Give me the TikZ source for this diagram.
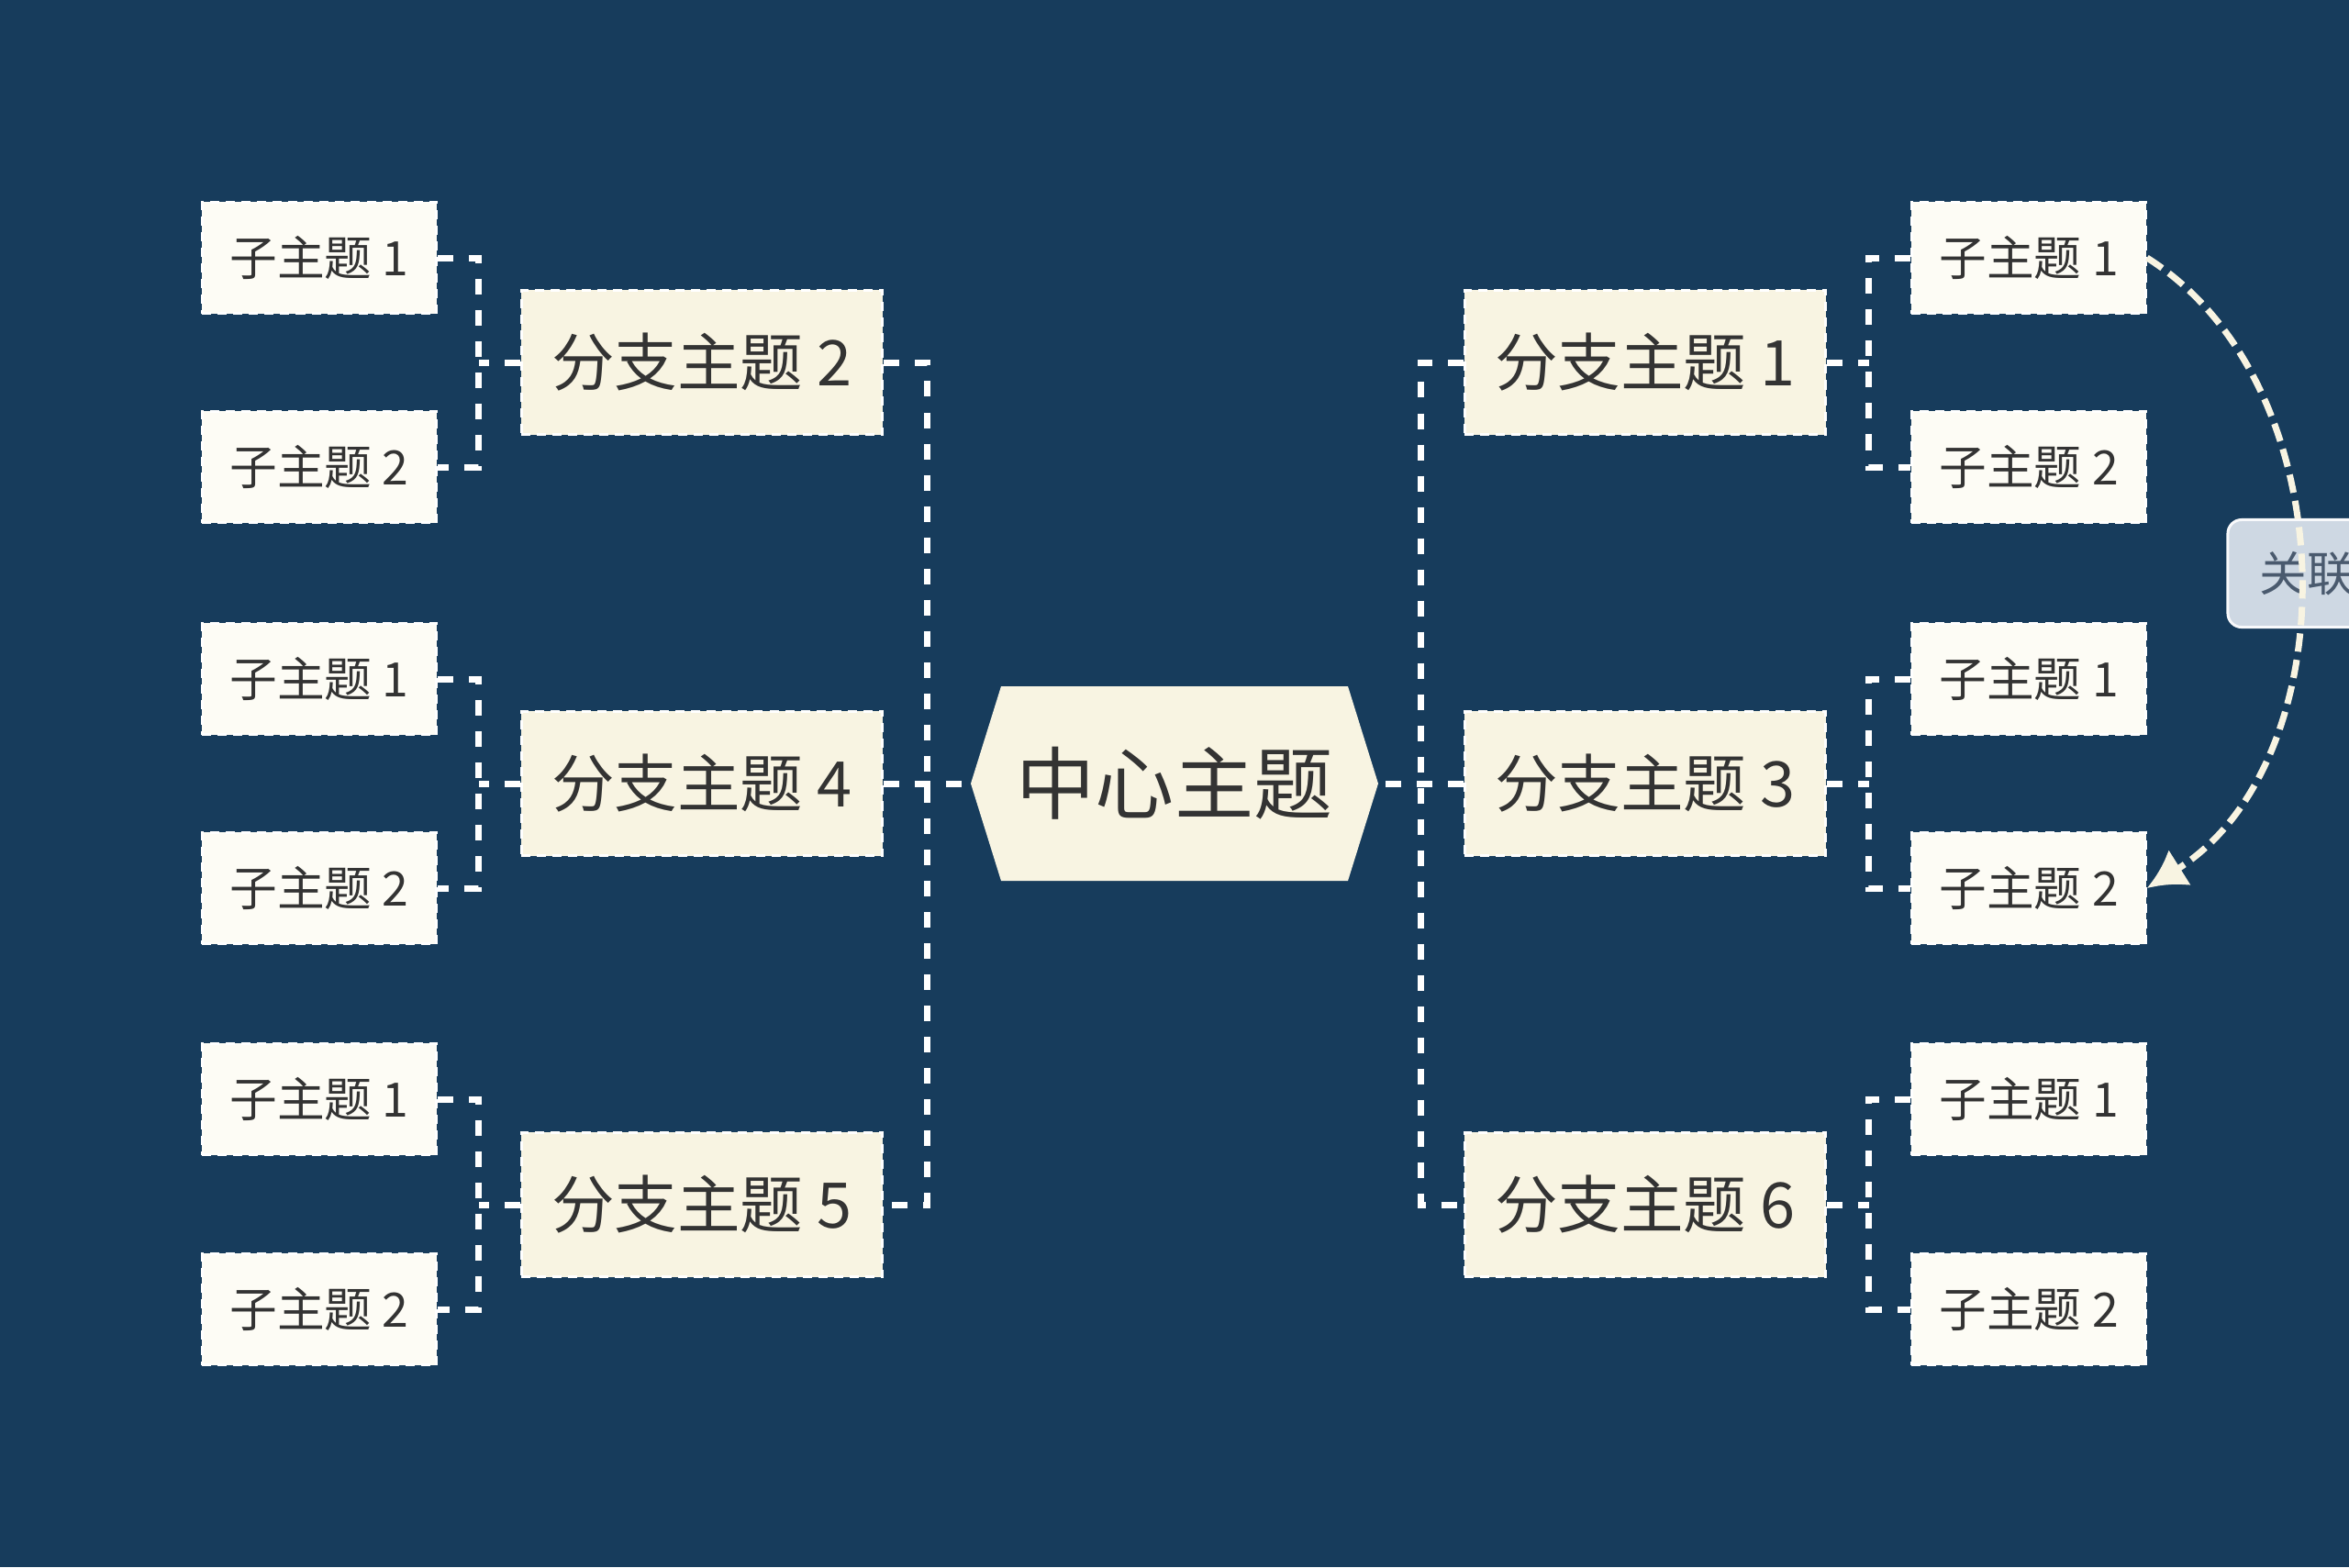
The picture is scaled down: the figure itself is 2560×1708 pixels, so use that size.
\documentclass[tikz,border=0pt]{standalone}
\usepackage{fontspec}
\setmainfont{Noto Sans CJK SC}
\usetikzlibrary{calc,arrows.meta}
\definecolor{bg}{HTML}{173C5C}
\definecolor{subfill}{HTML}{FDFCF5}
\definecolor{brfill}{HTML}{F8F4E2}
\definecolor{txt}{HTML}{333333}
\definecolor{relfill}{HTML}{CED8E3}
\definecolor{reltxt}{HTML}{4A5A6E}
\definecolor{linec}{HTML}{FFFFFF}
\definecolor{relline}{HTML}{F8F4E2}
\begin{document}
\begin{tikzpicture}[x=0.01cm,y=-0.01cm,
  subbox/.style={draw=white, line width=0.025cm, dash pattern=on 0.1cm off 0.07cm,
    fill=subfill, minimum width=2.55cm, minimum height=1.21cm, inner sep=0pt,
    text=txt, font=\fontsize{14.7}{17}\selectfont},
  brbox/.style={draw=white, line width=0.025cm, dash pattern=on 0.1cm off 0.07cm,
    fill=brfill, minimum width=3.93cm, minimum height=1.57cm, inner sep=0pt,
    text=txt, font=\fontsize{19.5}{23}\selectfont},
  conn/.style={draw=linec, line width=0.07cm, dash pattern=on 0.17cm off 0.17cm},
  relbox/.style={draw=white!85!relfill, line width=0.03cm, fill=relfill, rounded corners=0.15cm,
    minimum width=1.72cm, minimum height=1.17cm, inner sep=0pt, text=reltxt,
    font=\fontsize{14.7}{17}\selectfont},
  relarrow/.style={draw=relline, line width=0.07cm, dash pattern=on 0.2cm off 0.09cm,
    -{Latex[length=0.42cm,width=0.46cm]}},
]
\fill[bg] (0,0) rectangle (2560,1708);
\useasboundingbox (0,0) rectangle (2560,1708);

% center hexagon
\coordinate (cw) at (1058,854);
\coordinate (ce) at (1502,854);
\fill[brfill] (cw) -- (1091,748) -- (1469,748) -- (ce) -- (1469,960) -- (1091,960) -- cycle;
\node[text=txt, font=\fontsize{24.5}{29}\selectfont] (c) at (1280,854) {中心主题};

% branch topics
\node[brbox] (b2) at (765,395) {分支主题 2};
\node[brbox] (b4) at (765,854) {分支主题 4};
\node[brbox] (b5) at (765,1313) {分支主题 5};
\node[brbox] (b1) at (1793,395) {分支主题 1};
\node[brbox] (b3) at (1793,854) {分支主题 3};
\node[brbox] (b6) at (1793,1313) {分支主题 6};

% sub topics
\node[subbox] (l11) at (348,281) {子主题 1};
\node[subbox] (l12) at (348,509) {子主题 2};
\node[subbox] (l21) at (348,740) {子主题 1};
\node[subbox] (l22) at (348,968) {子主题 2};
\node[subbox] (l31) at (348,1198) {子主题 1};
\node[subbox] (l32) at (348,1427) {子主题 2};
\node[subbox] (r11) at (2211,281) {子主题 1};
\node[subbox] (r12) at (2211,509) {子主题 2};
\node[subbox] (r21) at (2211,740) {子主题 1};
\node[subbox] (r22) at (2211,968) {子主题 2};
\node[subbox] (r31) at (2211,1198) {子主题 1};
\node[subbox] (r32) at (2211,1427) {子主题 2};

% junction coordinates
\coordinate (jl) at ($(b4.east)!.5!(cw)$);
\coordinate (jr) at ($(b3.west)!.5!(ce)$);
\coordinate (jl1) at ($(l11.east)!.5!(b2.west)$);
\coordinate (jl2) at ($(l21.east)!.5!(b4.west)$);
\coordinate (jl3) at ($(l31.east)!.5!(b5.west)$);
\coordinate (jr1) at ($(r11.west)!.5!(b1.east)$);
\coordinate (jr2) at ($(r21.west)!.5!(b3.east)$);
\coordinate (jr3) at ($(r31.west)!.5!(b6.east)$);

% main spines
\draw[conn] (b2.east) -| (jl) |- (b5.east);
\draw[conn] (b4.east) -- (cw);
\draw[conn] (b1.west) -| (jr) |- (b6.west);
\draw[conn] (b3.west) -- (ce);
% left sub connectors
\draw[conn] (l11.east) -| (jl1) |- (l12.east);
\draw[conn] (b2.west) -- (b2.west -| jl1);
\draw[conn] (l21.east) -| (jl2) |- (l22.east);
\draw[conn] (b4.west) -- (b4.west -| jl2);
\draw[conn] (l31.east) -| (jl3) |- (l32.east);
\draw[conn] (b5.west) -- (b5.west -| jl3);
% right sub connectors
\draw[conn] (r11.west) -| (jr1) |- (r12.west);
\draw[conn] (b1.east) -- (b1.east -| jr1);
\draw[conn] (r21.west) -| (jr2) |- (r22.west);
\draw[conn] (b3.east) -- (b3.east -| jr2);
\draw[conn] (r31.west) -| (jr3) |- (r32.west);
\draw[conn] (b6.east) -- (b6.east -| jr3);

% redraw boxes over connectors
\node[brbox] at (b2) {分支主题 2};
\node[brbox] at (b4) {分支主题 4};
\node[brbox] at (b5) {分支主题 5};
\node[brbox] at (b1) {分支主题 1};
\node[brbox] at (b3) {分支主题 3};
\node[brbox] at (b6) {分支主题 6};
\node[subbox] at (l11) {子主题 1};
\node[subbox] at (l12) {子主题 2};
\node[subbox] at (l21) {子主题 1};
\node[subbox] at (l22) {子主题 2};
\node[subbox] at (l31) {子主题 1};
\node[subbox] at (l32) {子主题 2};
\node[subbox] at (r11) {子主题 1};
\node[subbox] at (r12) {子主题 2};
\node[subbox] at (r21) {子主题 1};
\node[subbox] at (r22) {子主题 2};
\node[subbox] at (r31) {子主题 1};
\node[subbox] at (r32) {子主题 2};

% relationship
\node[relbox] (rel) at (2514,625) {关联};
\draw[relarrow] (r11.east) .. controls (2560,420) and (2560,830) .. (r22.east);
\end{tikzpicture}
\end{document}
